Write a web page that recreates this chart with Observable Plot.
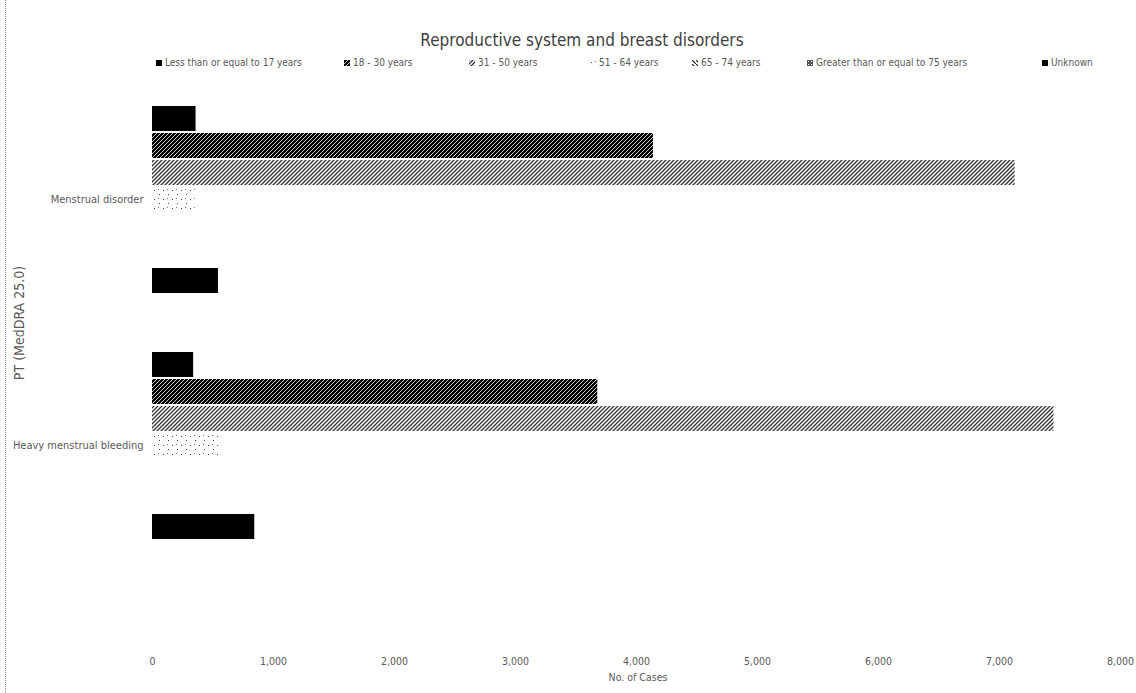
<!DOCTYPE html>
<html><head><meta charset="utf-8">
<script src="https://cdn.jsdelivr.net/npm/d3@7"></script>
<script src="https://cdn.jsdelivr.net/npm/@observablehq/plot@0.6"></script>
<style>
body{margin:0;background:#fff;}
#wrap{position:relative;width:1136px;height:693px;font-family:"Liberation Sans Narrow","DejaVu Sans Condensed",sans-serif;color:#595959;overflow:hidden;background:#fff}
#border{position:absolute;left:5px;top:0;bottom:0;border-left:1px dotted #888}
#title{position:absolute;left:0;width:1136px;padding-left:28px;box-sizing:border-box;top:29px;text-align:center;font-size:17px;line-height:22px;color:#404040}
#legend{position:absolute;top:56px;left:0;width:1136px;height:16px;font-size:10px;line-height:14px}
.li{position:absolute;top:0;white-space:nowrap;display:flex;align-items:center}
.li svg{margin-right:3px}
#chart{position:absolute;left:0;top:72px}
#ytitle{position:absolute;left:19px;top:323px;transform:translate(-50%,-50%) rotate(-90deg);font-size:14px;white-space:nowrap}
#xtitle{position:absolute;left:0;width:1136px;padding-left:140px;box-sizing:border-box;text-align:center;top:671px;font-size:10.5px}
</style></head><body><div id="wrap"><div id="border"></div><div id="title"></div><div id="legend"></div><div id="chart"></div><div id="ytitle"></div><div id="xtitle"></div></div>
<script>
const chartTitle = "Reproductive system and breast disorders";
const yAxisTitle = "PT (MedDRA 25.0)";
const xAxisTitle = "No. of Cases";
const categories = ["Menstrual disorder", "Heavy menstrual bleeding"];
const ageGroups = ["Less than or equal to 17 years", "18 - 30 years", "31 - 50 years", "51 - 64 years", "65 - 74 years", "Greater than or equal to 75 years", "Unknown"];
const menstrualDisorder = [360, 4140, 7130, 355, 0, 0, 545];
const heavyMenstrualBleeding = [340, 3680, 7450, 545, 0, 0, 845];
const xTicks = [0, 1000, 2000, 3000, 4000, 5000, 6000, 7000, 8000];

// styles (not data)
const fills = ["#000", "url(#p18)", "url(#p31)", "url(#p51)", "url(#p65)", "url(#p75)", "#000"];
const legendX = [156, 344, 469, 590, 692, 807, 1042];

const rows = [];
[menstrualDisorder, heavyMenstrualBleeding].forEach((vals, ci) => {
  vals.forEach((v, si) => rows.push({category: categories[ci], age: ageGroups[si], value: v}));
});

document.getElementById("title").textContent = chartTitle;
document.getElementById("ytitle").textContent = yAxisTitle;
document.getElementById("xtitle").textContent = xAxisTitle;

const plot = Plot.plot({
  width: 1136,
  height: 621,
  marginLeft: 152,
  marginRight: 16,
  marginTop: 4,
  marginBottom: 125,
  style: {fontFamily: '"Liberation Sans Narrow","DejaVu Sans Condensed",sans-serif', fontSize: "10px", color: "#595959", background: "transparent"},
  x: {domain: [0, 8000], axis: null},
  y: {domain: ageGroups, padding: 0.08, axis: null},
  fy: {domain: categories, paddingInner: 0.2114, paddingOuter: 0.1057, axis: null},
  color: {type: "ordinal", domain: ageGroups, range: fills},
  marks: [
    Plot.barX(rows, {x: "value", y: "age", fy: "category", fill: "age"}),
    Plot.axisFy({anchor: "left", tickSize: 0, tickPadding: 9, label: null, fontSize: 11, fill: "#595959"}),
    Plot.axisX({anchor: "bottom", ticks: xTicks, tickSize: 0, tickPadding: 115, tickFormat: d3.format(","), label: null, fontSize: 10.5, fill: "#595959"})
  ]
});

// patterns
const svgNS = "http://www.w3.org/2000/svg";
const defs = document.createElementNS(svgNS, "defs");
defs.innerHTML = `
<pattern id="p18" width="4" height="4" patternUnits="userSpaceOnUse">
  <rect width="4" height="4" fill="#000"/>
  <path d="M0,4 L4,0" stroke="#fff" stroke-width="0.8"/>
</pattern>
<pattern id="p31" width="4" height="4" patternUnits="userSpaceOnUse">
  <rect width="4" height="4" fill="#fff"/>
  <path d="M-1,1 L1,-1 M0,4 L4,0 M3,5 L5,3" stroke="#333" stroke-width="1.3"/>
</pattern>
<pattern id="p51" width="9" height="9" patternUnits="userSpaceOnUse">
  <rect width="9" height="9" fill="#fff"/>
  <rect x="1" y="2" width="1" height="1" fill="#444"/>
  <rect x="6" y="6" width="1" height="1" fill="#444"/>
  <rect x="5" y="1" width="1" height="1" fill="#777"/>
</pattern>
<pattern id="p65" width="4" height="4" patternUnits="userSpaceOnUse">
  <rect width="4" height="4" fill="#fff"/>
  <path d="M0,0 L4,4" stroke="#222" stroke-width="1.2"/>
</pattern>
<pattern id="p75" width="3" height="3" patternUnits="userSpaceOnUse">
  <rect width="3" height="3" fill="#555"/>
  <rect x="1" y="1" width="1" height="1" fill="#fff"/>
</pattern>`;
plot.insertBefore(defs, plot.firstChild);
document.getElementById("chart").appendChild(plot);

// legend
const legend = document.getElementById("legend");
ageGroups.forEach((g, i) => {
  const item = document.createElement("div");
  item.className = "li";
  item.style.left = legendX[i] + "px";
  item.innerHTML = `<svg width="6" height="6"><rect width="6" height="6" fill="${fills[i]}"/></svg><span>${g}</span>`;
  legend.appendChild(item);
});
</script></body></html>
